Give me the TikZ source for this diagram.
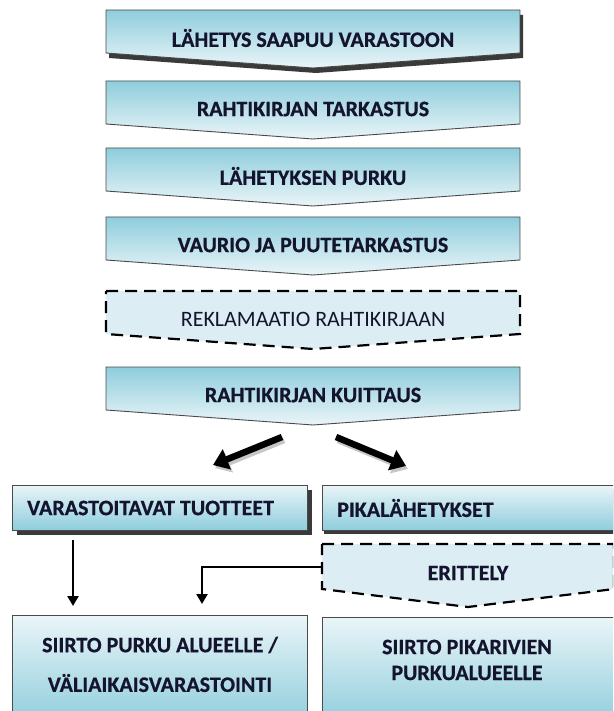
\documentclass[tikz,border=0pt]{standalone}
\usepackage{fontspec}
\setmainfont{Carlito}[BoldFeatures={FakeBold=0.6}]
\usetikzlibrary{arrows.meta}
\definecolor{txt}{HTML}{14142E}
\definecolor{blueA}{HTML}{8ECDDC}
\definecolor{blueB}{HTML}{EAF5F8}
\definecolor{dashfill}{HTML}{DCEEF4}
\definecolor{edge}{HTML}{4A4A4A}
\definecolor{shadowc}{HTML}{3A3A3A}
\tikzset{
  lbl/.style={font=\bfseries\fontsize{22}{26}\selectfont, text=txt, inner sep=0pt},
  lblreg/.style={font=\fontsize{22}{26}\selectfont, text=txt, inner sep=0pt},
  chevbox/.style={top color=blueA, bottom color=blueB, draw=edge, line width=0.9pt},
  dashbox/.style={fill=dashfill, draw=black, line width=2.2pt, dash pattern=on 12pt off 7pt},
  lowbox/.style={top color=blueB, bottom color=blueA, draw=edge, line width=0.9pt},
  shad/.style={fill=shadowc},
  fat/.style={line width=6.5pt, -{Triangle[length=15pt,width=21pt]}},
  fatshadow/.style={line width=6.5pt, draw=gray!45, -{Triangle[length=15pt,width=21pt]}},
  thin/.style={line width=2.4pt, -{Triangle[length=10pt,width=11pt]}},
}
\newcommand\chevpath[1]{(106,#1) -- (520,#1) -- (520,{#1+43}) -- (313,{#1+58}) -- (106,{#1+43}) -- cycle}
\begin{document}
\begin{tikzpicture}[x=1pt,y=-1pt]
\useasboundingbox (0,0) rectangle (613,711);
\clip (0,0) rectangle (613,711);
% chevron steps
\path[shad] [shift={(3,5)}] \chevpath{10};
\path[chevbox] \chevpath{10};
\node[lbl] (s1) at (313,38) {LÄHETYS SAAPUU VARASTOON};
\path[chevbox] \chevpath{81};
\node[lbl] (s2) at (313,109) {RAHTIKIRJAN TARKASTUS};
\path[chevbox] \chevpath{148};
\node[lbl] (s3) at (313,176) {LÄHETYKSEN PURKU};
\path[chevbox] \chevpath{217};
\node[lbl] (s4) at (313,245) {VAURIO JA PUUTETARKASTUS};
\path[dashbox] \chevpath{291};
\node[lblreg] (s5) at (313,319) {REKLAMAATIO RAHTIKIRJAAN};
\path[chevbox] \chevpath{367};
\node[lbl] (s6) at (313,395) {RAHTIKIRJAN KUITTAUS};
% fat arrows
\coordinate (la) at (282,437);
\coordinate (lb) at (213,465);
\coordinate (ra) at (336,437);
\coordinate (rb) at (406,466);
\draw[fatshadow] ([shift={(2,3)}]la) -- ([shift={(2,3)}]lb);
\draw[fatshadow] ([shift={(2,3)}]ra) -- ([shift={(2,3)}]rb);
\draw[fat] (la) -- (lb);
\draw[fat] (ra) -- (rb);
% second level boxes
\path[shad] (17,490) rectangle (312,535);
\path[lowbox] (12,485) rectangle (307,530);
\node[lbl, anchor=west] (v) at (27,508) {VARASTOITAVAT TUOTTEET};
\path[shad] (324,489) rectangle (625,534);
\path[lowbox] (322,485) rectangle (625,530);
\node[lbl, anchor=west] (p) at (337,508) {PIKALÄHETYKSET};
% erittely
\path[dashbox] (322,544) -- (614,544) -- (614,589) -- (468,607) -- (322,589) -- cycle;
\node[lbl] (e) at (468,573) {ERITTELY};
\coordinate (ew) at (322,567);
% bottom boxes
\path[lowbox] (12,615) rectangle (307,725);
\node[lbl] (b1) at (160,645) {SIIRTO PURKU ALUEELLE /};
\node[lbl] (b2) at (160,683) {VÄLIAIKAISVARASTOINTI};
\path[lowbox] (322,617) rectangle (625,725);
\node[lbl] (c1) at (467,647) {SIIRTO PIKARIVIEN};
\node[lbl] (c2) at (467,673) {PURKUALUEELLE};
% connectors
\coordinate (vd) at (73,540);
\coordinate (vt) at (73,606);
\draw[thin] (vd) -- (vt);
\coordinate (et) at (202,604);
\draw[thin] (ew) -| (et);
\end{tikzpicture}
\end{document}
